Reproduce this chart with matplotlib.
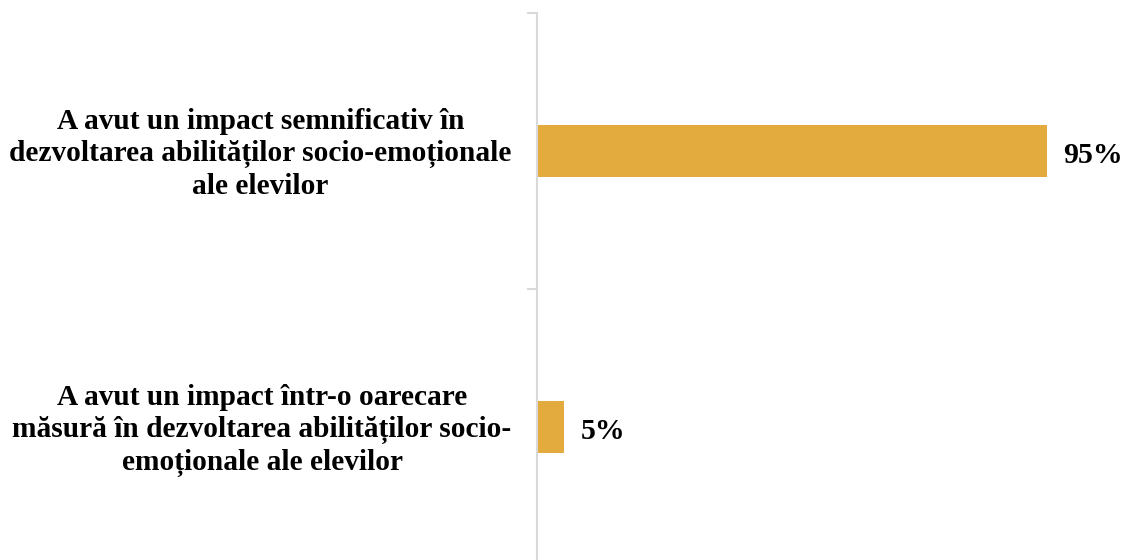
import matplotlib.pyplot as plt

categories = [
    "A avut un impact semnificativ în\ndezvoltarea abilităților socio-emoționale\nale elevilor",
    "A avut un impact într-o oarecare\nmăsură în dezvoltarea abilităților socio-\nemoționale ale elevilor",
]
values = [95, 5]
labels = ["95%", "5%"]

plt.rcParams["font.family"] = ["Liberation Serif", "DejaVu Serif"]

fig = plt.figure(figsize=(11.27, 5.6), dpi=100)
ax = fig.add_axes([537 / 1127, -5 / 560, 590 / 1127, 552 / 560])

pos = [1.5, 0.5]
ax.barh(pos, values, height=0.185, color="#E3AB3E")
ax.set_xlim(0, 110)
ax.set_ylim(0, 2)

# Value labels to the right of each bar.
for p, v, lab in zip(pos, values, labels):
    ax.annotate(lab, (v, p), xytext=(12, -3), textcoords="offset points",
                va="center", ha="left", fontsize=21.5, fontweight="bold")

# Category labels placed centred in each band.
for p, cat in zip(pos, categories):
    ax.text(-0.043, p - 0.012, cat, transform=ax.get_yaxis_transform(), ha="right",
            va="center", multialignment="center", fontsize=21.2,
            fontweight="bold", linespacing=1.24)

ax.set_yticks([0, 1, 2])
ax.set_yticklabels([])
ax.set_xticks([])
ax.tick_params(axis="y", length=7, width=1.5, color="#D9D9D9")
for side in ["top", "right", "bottom"]:
    ax.spines[side].set_visible(False)
ax.spines["left"].set_color("#D9D9D9")
ax.spines["left"].set_linewidth(1.5)

fig.savefig("out.png", dpi=100)
